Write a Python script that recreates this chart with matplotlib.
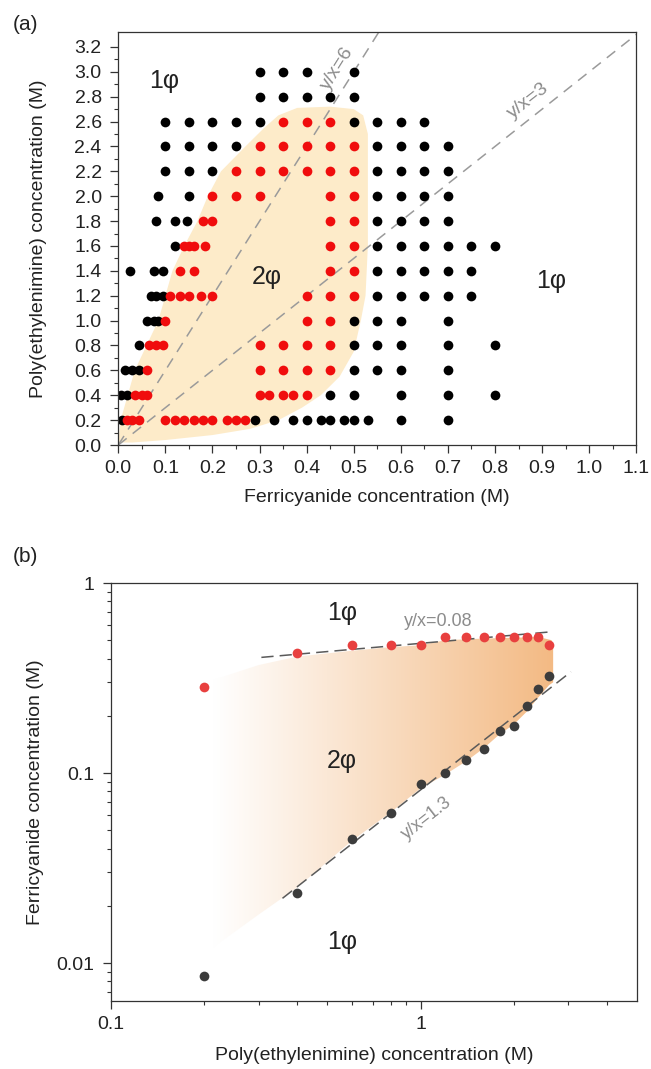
import numpy as np
import matplotlib
matplotlib.use("Agg")
import matplotlib.pyplot as plt
from matplotlib.patches import Polygon
from matplotlib.ticker import FixedLocator, NullFormatter, FixedFormatter

plt.rcParams['font.family'] = ['Liberation Sans', 'DejaVu Sans']
plt.rcParams['axes.linewidth'] = 0.9

# ---------------- Panel (a) data ----------------
pei_levels = [0.2, 0.4, 0.6, 0.8, 1.0, 1.2, 1.4, 1.6, 1.8, 2.0, 2.2, 2.4, 2.6, 2.8, 3.0]
black_fcn_rows = [
    [0.007, 0.29, 0.33, 0.37, 0.40, 0.43, 0.45, 0.48, 0.50, 0.53, 0.60, 0.70],
    [0.005, 0.018, 0.45, 0.50, 0.60, 0.70, 0.80],
    [0.015, 0.03, 0.045, 0.50, 0.55, 0.60, 0.70],
    [0.045, 0.50, 0.55, 0.60, 0.70, 0.80],
    [0.06, 0.075, 0.085, 0.50, 0.55, 0.60, 0.70],
    [0.07, 0.08, 0.095, 0.55, 0.60, 0.65, 0.70, 0.75],
    [0.025, 0.075, 0.095, 0.55, 0.60, 0.65, 0.70, 0.75],
    [0.12, 0.55, 0.60, 0.65, 0.70, 0.75, 0.80],
    [0.08, 0.12, 0.145, 0.55, 0.60, 0.65, 0.70],
    [0.085, 0.15, 0.55, 0.60, 0.65, 0.70],
    [0.10, 0.15, 0.20, 0.55, 0.60, 0.65, 0.70],
    [0.10, 0.15, 0.20, 0.25, 0.55, 0.60, 0.65, 0.70],
    [0.10, 0.15, 0.20, 0.25, 0.30, 0.50, 0.55, 0.60, 0.65],
    [0.30, 0.35, 0.40, 0.45, 0.50],
    [0.30, 0.35, 0.40, 0.50],
]
red_fcn_rows = [
    [0.018, 0.03, 0.043, 0.10, 0.12, 0.14, 0.16, 0.18, 0.20, 0.23, 0.25, 0.27],
    [0.035, 0.05, 0.06, 0.30, 0.32, 0.35, 0.37, 0.40],
    [0.06, 0.30, 0.35, 0.40, 0.45],
    [0.065, 0.08, 0.095, 0.30, 0.35, 0.40, 0.45],
    [0.10, 0.40, 0.45],
    [0.11, 0.13, 0.15, 0.175, 0.20, 0.40, 0.45, 0.50],
    [0.13, 0.16, 0.45, 0.50],
    [0.14, 0.15, 0.16, 0.185, 0.45, 0.50],
    [0.18, 0.20, 0.45, 0.50],
    [0.20, 0.25, 0.30, 0.45, 0.50],
    [0.25, 0.30, 0.35, 0.40, 0.45, 0.50],
    [0.30, 0.35, 0.40, 0.45, 0.50],
    [0.35, 0.40, 0.45],
    [],
    [],
]
ratio_lines = [6, 3]
ratio_labels = ["y/x=6", "y/x=3"]

# two-phase region outline (Ferricyanide, PEI)
a_shade_x = [0.0, 0.005, 0.02, 0.035, 0.06, 0.085, 0.10, 0.115, 0.14, 0.168, 0.19, 0.218,
             0.27, 0.31, 0.34, 0.38, 0.45, 0.50, 0.52, 0.53, 0.53, 0.525, 0.515, 0.50,
             0.47, 0.43, 0.39, 0.34, 0.28, 0.20, 0.10, 0.03]
a_shade_y = [0.02, 0.20, 0.40, 0.60, 0.80, 1.00, 1.20, 1.40, 1.60, 1.80, 2.00, 2.20,
             2.40, 2.55, 2.65, 2.71, 2.72, 2.70, 2.65, 2.50, 1.60, 1.20, 1.00, 0.75,
             0.55, 0.40, 0.30, 0.20, 0.13, 0.08, 0.04, 0.02]

# ---------------- Panel (b) data ----------------
b_pei = [0.2, 0.4, 0.6, 0.8, 1.0, 1.2, 1.4, 1.6, 1.8, 2.0, 2.2, 2.4, 2.6]
b_upper_fcn = [0.285, 0.43, 0.47, 0.47, 0.47, 0.52, 0.52, 0.52, 0.52, 0.52, 0.52, 0.52, 0.47]
b_lower_fcn = [0.0085, 0.0233, 0.0448, 0.0618, 0.0875, 0.100, 0.117, 0.134, 0.166, 0.177,
               0.225, 0.277, 0.324]
upper_line_x = [0.306, 2.66]
upper_line_y = [0.406, 0.554]
lower_line_x = [0.358, 3.06]
lower_line_y = [0.0219, 0.341]

b_shade_x = [0.215, 0.30, 0.40, 0.60, 0.80, 1.0, 1.2, 1.6, 2.0, 2.4, 2.65, 2.68, 2.68,
             2.6, 2.4, 2.2, 2.0, 1.8, 1.6, 1.4, 1.2, 1.0, 0.8, 0.6, 0.4, 0.3, 0.22, 0.215]
b_shade_y = [0.31, 0.37, 0.41, 0.44, 0.46, 0.47, 0.50, 0.51, 0.515, 0.52, 0.50, 0.45, 0.30,
             0.29, 0.25, 0.21, 0.18, 0.16, 0.135, 0.115, 0.098, 0.083, 0.062, 0.044, 0.025,
             0.018, 0.0125, 0.012]

W, H = 651, 1069
fig = plt.figure(figsize=(W / 100, H / 100), dpi=100)

def px_axes(l, t, r, b):
    return [l / W, 1 - b / H, (r - l) / W, (b - t) / H]

TXT = '#222222'
fs_tick = 14
fs_label = 14

# ======== Panel (a) ========
A_L, A_T, A_R, A_B = 118.3, 32, 636.3, 445
ax1 = fig.add_axes(px_axes(A_L, A_T, A_R, A_B))
ax1.add_patch(Polygon(np.column_stack([a_shade_x, a_shade_y]), closed=True,
                      fc='#fdebc9', ec='none', zorder=0))
for r in ratio_lines:
    ax1.axline((0, 0), slope=r, color='#9a9a9a', lw=1.1, dashes=(7, 5), zorder=1)
for pei, bx in zip(pei_levels, black_fcn_rows):
    ax1.plot(bx, [pei] * len(bx), 'o', color='black', ms=7, mec='none', zorder=2)
for pei, rx in zip(pei_levels, red_fcn_rows):
    ax1.plot(rx, [pei] * len(rx), 'o', color='#f00d0d', ms=7, mec='none', zorder=3)

ax1.text(0.466, 3.03, ratio_labels[0], rotation=58, color='#8c8c8c', fontsize=14,
         ha='center', va='center', zorder=4)
ax1.text(0.87, 2.77, ratio_labels[1], rotation=38, color='#8c8c8c', fontsize=14,
         ha='center', va='center', zorder=4)
ax1.text(0.097, 2.93, "1φ", fontsize=18, color=TXT, ha='center', va='center')
ax1.text(0.316, 1.35, "2φ", fontsize=18, color=TXT, ha='center', va='center')
ax1.text(0.92, 1.32, "1φ", fontsize=18, color=TXT, ha='center', va='center')

ax1.set_xlim(0, 1.1)
ax1.set_ylim(0, 3.32)
xt = np.round(np.arange(0, 1.11, 0.1), 2)
ax1.xaxis.set_major_locator(FixedLocator(xt))
ax1.xaxis.set_major_formatter(FixedFormatter([f"{v:.1f}" for v in xt]))
ax1.xaxis.set_minor_locator(FixedLocator(np.round(np.arange(0.05, 1.1, 0.1), 3)))
yt = np.round(np.arange(0, 3.21, 0.2), 2)
ax1.yaxis.set_major_locator(FixedLocator(yt))
ax1.yaxis.set_major_formatter(FixedFormatter([f"{v:.1f}" for v in yt]))
ax1.yaxis.set_minor_locator(FixedLocator(np.round(np.arange(0.1, 3.3, 0.2), 3)))
ax1.set_xlabel("Ferricyanide concentration (M)", fontsize=fs_label, color=TXT,
               ha='center', va='center')
ax1.xaxis.set_label_coords(0.5, (A_B - 498) / (A_B - A_T))
ax1.set_ylabel("Poly(ethylenimine) concentration (M)", fontsize=fs_label, color=TXT,
               ha='center', va='center')
ax1.yaxis.set_label_coords((39 - A_L) / (A_R - A_L), 0.5)

# ======== Panel (b) ========
B_L, B_T, B_R, B_B = 111, 583, 637, 1001
ax2 = fig.add_axes(px_axes(B_L, B_T, B_R, B_B))
grad_n = 256
gx = np.linspace(0, 1, grad_n)
c0 = np.array([1.0, 1.0, 1.0])
c1 = np.array([243, 186, 132]) / 255.0
t = np.clip((gx - 0.196) / (0.84 - 0.196), 0, 1)
rgb = c0[None, :] * (1 - t[:, None]) + c1[None, :] * t[:, None]
img = rgb[None, :, :]
im = ax2.imshow(img, extent=(0, 1, 0, 1), transform=ax2.transAxes, aspect='auto',
                zorder=0, interpolation='bilinear')
ax2.set_xscale('log')
ax2.set_yscale('log')
ax2.set_xlim(0.1, 5)
ax2.set_ylim(10 ** -2.2, 1)
clip_poly = Polygon(np.column_stack([b_shade_x, b_shade_y]), closed=True,
                    fc='none', ec='none', transform=ax2.transData)
ax2.add_patch(clip_poly)
im.set_clip_path(clip_poly)

ax2.plot(upper_line_x, upper_line_y, color='#5a5a5a', lw=1.1, dashes=(8, 4), zorder=2)
ax2.plot(lower_line_x, lower_line_y, color='#5a5a5a', lw=1.1, dashes=(8, 4), zorder=2)
ax2.plot(b_pei, b_upper_fcn, 'o', color='#e8403f', ms=7, mec='none', zorder=3)
ax2.plot(b_pei, b_lower_fcn, 'o', color='#3c3c3c', ms=7, mec='none', zorder=3)

ax2.text(1.14, 0.63, "y/x=0.08", color='#8c8c8c', fontsize=13, ha='center', va='center')
ax2.text(1.05, 0.058, "y/x=1.3", color='#8c8c8c', fontsize=13, rotation=38,
         ha='center', va='center')
ax2.text(0.557, 0.695, "1φ", fontsize=18, color=TXT, ha='center', va='center')
ax2.text(0.557, 0.116, "2φ", fontsize=18, color=TXT, ha='center', va='center')
ax2.text(0.557, 0.0129, "1φ", fontsize=18, color=TXT, ha='center', va='center')

ax2.xaxis.set_major_locator(FixedLocator([0.1, 1]))
ax2.xaxis.set_major_formatter(FixedFormatter(["0.1", "1"]))
ax2.xaxis.set_minor_locator(FixedLocator([0.2, 0.3, 0.4, 0.5, 0.6, 0.7, 0.8, 0.9, 2, 3, 4]))
ax2.xaxis.set_minor_formatter(NullFormatter())
ax2.yaxis.set_major_locator(FixedLocator([0.01, 0.1, 1]))
ax2.yaxis.set_major_formatter(FixedFormatter(["0.01", "0.1", "1"]))
ax2.yaxis.set_minor_locator(FixedLocator([0.007, 0.008, 0.009] + [k * 0.01 for k in range(2, 10)]
                                         + [k * 0.1 for k in range(2, 10)]))
ax2.yaxis.set_minor_formatter(NullFormatter())
ax2.set_xlabel("Poly(ethylenimine) concentration (M)", fontsize=fs_label, color=TXT,
               ha='center', va='center')
ax2.xaxis.set_label_coords(0.5, (B_B - 1056) / (B_B - B_T))
ax2.set_ylabel("Ferricyanide concentration (M)", fontsize=fs_label, color=TXT,
               ha='center', va='center')
ax2.yaxis.set_label_coords((35 - B_L) / (B_R - B_L), 0.5)

for ax in (ax1, ax2):
    ax.tick_params(which='major', direction='out', length=6, width=0.9, labelsize=fs_tick,
                   colors='#333333', labelcolor=TXT, top=False, right=False)
    ax.tick_params(which='minor', direction='out', length=3, width=0.8, colors='#333333',
                   top=False, right=False)
    ax.tick_params(axis='x', which='major', pad=5)
    ax.tick_params(axis='y', which='major', pad=6)
    for s in ax.spines.values():
        s.set_color('#333333')

fig.text(13 / W, 1 - 25 / H, "(a)", fontsize=15, color=TXT, ha='left', va='center')
fig.text(13 / W, 1 - 557 / H, "(b)", fontsize=15, color=TXT, ha='left', va='center')

fig.savefig("out.png", dpi=100)
